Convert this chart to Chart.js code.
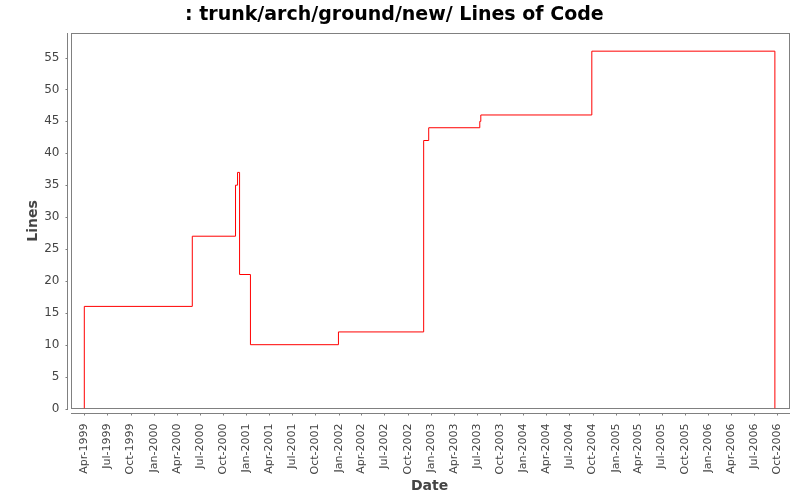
<!DOCTYPE html>
<html>
<head>
<meta charset="utf-8">
<script src="https://cdn.jsdelivr.net/npm/chart.js@4.4.0/dist/chart.umd.min.js"></script>
<style>
  body { margin: 0; background: #fff; }
  #chart { display: block; }
</style>
</head>
<body>
<canvas id="chart" width="800" height="500"></canvas>
<script>
// dates where the line count changes, and the count from that date on
const changeDates = ['1999-04-01', '1999-04-01', '2000-06-01', '2000-11-19', '2000-11-27',
  '2000-12-05', '2001-01-17', '2001-12-31', '2002-12-03', '2002-12-23',
  '2003-07-13', '2003-07-17', '2004-09-28', '2006-09-22'];
const lineCounts = [0, 16, 27, 35, 37, 21, 10, 12, 42, 44, 45, 46, 56, 0];

const tickLabels = ['Apr-1999', 'Jul-1999', 'Oct-1999', 'Jan-2000', 'Apr-2000', 'Jul-2000',
  'Oct-2000', 'Jan-2001', 'Apr-2001', 'Jul-2001', 'Oct-2001', 'Jan-2002', 'Apr-2002',
  'Jul-2002', 'Oct-2002', 'Jan-2003', 'Apr-2003', 'Jul-2003', 'Oct-2003', 'Jan-2004',
  'Apr-2004', 'Jul-2004', 'Oct-2004', 'Jan-2005', 'Apr-2005', 'Jul-2005', 'Oct-2005',
  'Jan-2006', 'Apr-2006', 'Jul-2006', 'Oct-2006'];

const months = ['Jan', 'Feb', 'Mar', 'Apr', 'May', 'Jun', 'Jul', 'Aug', 'Sep', 'Oct', 'Nov', 'Dec'];
function labelTime(lbl) {
  const p = lbl.split('-');
  return Date.UTC(+p[1], months.indexOf(p[0]), 1);
}

const points = changeDates.map((d, i) => ({ x: Date.parse(d), y: lineCounts[i] }));
const first = points[0].x, last = points[points.length - 1].x;
const margin = (last - first) * 0.02;

const font = 'DejaVu Sans';

// plot frame and the offset axis lines
const plotFrame = {
  id: 'plotFrame',
  beforeDatasetsDraw(chart) {
    const ctx = chart.ctx, a = chart.chartArea;
    ctx.save();
    ctx.strokeStyle = '#808080';
    ctx.lineWidth = 1;
    ctx.strokeRect(Math.round(a.left) + 0.5, Math.round(a.top) + 0.5,
      Math.round(a.right - a.left), Math.round(a.bottom - a.top));
    ctx.restore();
  },
  afterDraw(chart) {
    const ctx = chart.ctx, a = chart.chartArea;
    const xs = chart.scales.x, ys = chart.scales.y;
    ctx.save();
    ctx.strokeStyle = '#808080';
    ctx.lineWidth = 1;
    ctx.beginPath();
    const ax = Math.round(a.left) - 4 + 0.5;
    ctx.moveTo(ax, Math.round(a.top));
    ctx.lineTo(ax, Math.round(a.bottom) + 1);
    ys.ticks.forEach(t => {
      const py = Math.round(ys.getPixelForValue(t.value)) + 0.5;
      ctx.moveTo(ax - 2, py);
      ctx.lineTo(ax, py);
    });
    const ay = Math.round(a.bottom) + 4 + 0.5;
    ctx.moveTo(Math.round(a.left), ay);
    ctx.lineTo(Math.round(a.right) + 1, ay);
    xs.ticks.forEach(t => {
      const px = Math.round(xs.getPixelForValue(t.value)) + 0.5;
      ctx.moveTo(px, ay);
      ctx.lineTo(px, ay + 2);
    });
    ctx.stroke();
    ctx.restore();
  }
};

new Chart(document.getElementById('chart'), {
  type: 'line',
  data: {
    datasets: [{
      label: 'Lines',
      data: points,
      stepped: 'before',
      borderColor: '#ff0000',
      borderWidth: 1,
      pointRadius: 0,
      fill: false
    }]
  },
  options: {
    responsive: false,
    devicePixelRatio: 1,
    animation: false,
    layout: { padding: { left: 0, right: 11.3, top: 0, bottom: 0 } },
    plugins: {
      legend: { display: false },
      tooltip: { enabled: false },
      title: {
        display: true,
        text: ': trunk/arch/ground/new/ Lines of Code',
        color: '#000',
        font: { family: font, size: 19, weight: 'bold' },
        padding: { top: 3.5, bottom: 7 }
      }
    },
    scales: {
      x: {
        type: 'linear',
        min: first - margin,
        max: last + margin,
        grid: { display: false, drawTicks: false },
        border: { display: false },
        afterBuildTicks: s => { s.ticks = tickLabels.map(l => ({ value: labelTime(l) })); },
        afterFit: s => { s.height = 91.5; s.paddingLeft = 0; s.paddingRight = 0; },
        ticks: {
          autoSkip: false,
          maxRotation: 90,
          minRotation: 90,
          padding: 15,
          color: '#444',
          font: { family: font, size: 11 },
          callback: (v, i) => tickLabels[i]
        },
        title: {
          display: true,
          text: 'Date',
          color: '#444',
          font: { family: font, size: 14, weight: 'bold' },
          padding: { top: 0, bottom: 5 }
        }
      },
      y: {
        min: 0,
        max: Math.max(...lineCounts) * 1.05,
        grid: { display: false, drawTicks: false },
        border: { display: false },
        afterFit: s => { s.width = 70.5; s.paddingTop = 0; s.paddingBottom = 0; },
        ticks: {
          stepSize: 5,
          includeBounds: false,
          padding: 11,
          color: '#444',
          font: { family: font, size: 12 }
        },
        title: {
          display: true,
          text: 'Lines',
          color: '#444',
          font: { family: font, size: 14, weight: 'bold' },
          padding: { top: 25, bottom: 0 }
        }
      }
    }
  },
  plugins: [plotFrame]
});
</script>
</body>
</html>
